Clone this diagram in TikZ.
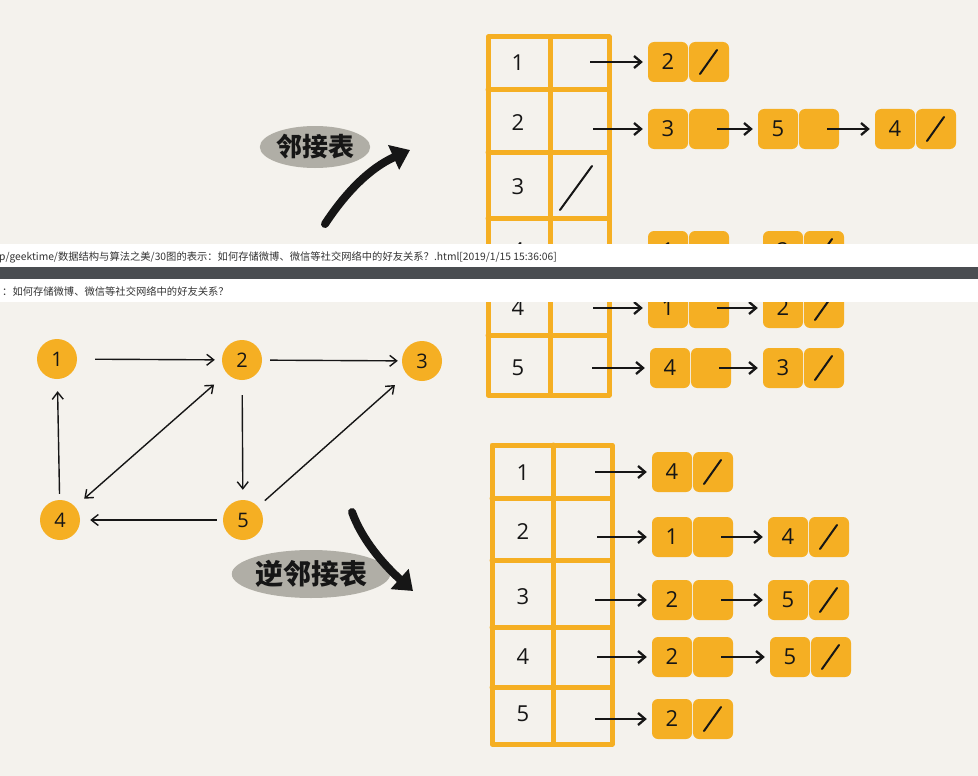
\documentclass[tikz,border=0pt]{standalone}
\usepackage{fontspec}
\usetikzlibrary{arrows.meta,shapes.geometric}
\newfontfamily\cjk{Noto Sans CJK SC}
\newfontfamily\hand{Open Sans}
\definecolor{paper}{HTML}{F4F2ED}
\definecolor{amber}{HTML}{F5AF23}
\definecolor{tagfill}{HTML}{B0AEA6}
\definecolor{barc}{HTML}{4A4D51}
\definecolor{ink}{HTML}{161616}
\definecolor{bartext}{HTML}{333333}

\tikzset{
  blk/.style={rectangle, rounded corners=6pt, fill=amber, minimum width=40pt,
    minimum height=40pt, inner sep=0pt, text=ink, font=\hand\fontsize{22}{22}\selectfont},
  vtx/.style={circle, fill=amber, minimum size=40pt, inner sep=0pt, text=ink,
    font=\hand\fontsize{20}{20}\selectfont},
  key/.style={inner sep=0pt, text=ink, font=\hand\fontsize{22}{22}\selectfont},
  grid/.style={draw=amber, line width=5pt, line join=round, line cap=round},
  ptr/.style={-{Straight Barb[length=7pt,width=12pt]}, line width=2.3pt, draw=ink, shorten >=5pt},
  edge/.style={line width=1.4pt, draw=ink},
  tip/.style={-{Straight Barb[length=7pt,width=11pt]}},
  nil/.style={line width=2pt, draw=ink, line cap=round},
  bigarrow/.style={line width=8pt, draw=ink, line cap=round,
    -{Triangle[length=18pt,width=26pt]}},
  tag/.style={ellipse, fill=tagfill, inner sep=0pt, text=ink},
  bartxt/.style={anchor=west, inner sep=0pt, text=bartext, font=\cjk\fontsize{10.3}{10.3}\selectfont}
}

% a list cell: value half and pointer half
\newcommand\cellpair[4]{%
  \node[blk] (#1a) at (#2,#3) {#4};
  \node[blk] (#1b) at ({#2+41},#3) {};}
% null pointer mark in the pointer half
\newcommand\cellend[1]{%
  \draw[nil] ([xshift=-9pt,yshift=-12pt]#1b.center) -- ([xshift=8pt,yshift=12pt]#1b.center);}
% pointer from one cell to the next
\newcommand\cellnext[2]{%
  \draw[ptr, shorten <=8pt] (#1b.center) -- (#2a.west);}

% adjacency list: frame
\newcommand\adjgrid{%
  \draw[grid] (488,37) rectangle (609,338);
  \draw[grid] (550,37) -- (550,338);
  \foreach \yy in {90,152,218,278} {\draw[grid] (488,\yy) -- (609,\yy);}}
% adjacency list: rows 1 to 3
\newcommand\adjupper{%
  \node[key] (ak1) at (518,63) {1};
  \node[key] (ak2) at (518,123) {2};
  \node[key] (ak3) at (518,187) {3};
  \cellpair{aa}{668}{62}{2}\cellend{aa}
  \coordinate (ap1) at (590,62);
  \draw[ptr] (ap1) -- (aaa.west);
  \cellpair{ab}{668}{129}{3}
  \cellpair{ac}{778}{129}{5}
  \cellpair{ad}{895}{129}{4}\cellend{ad}
  \coordinate (ap2) at (593,129);
  \draw[ptr] (ap2) -- (aba.west);
  \cellnext{ab}{ac}\cellnext{ac}{ad}
  \coordinate (an3s) at (560,210);
  \coordinate (an3e) at (592,166);
  \draw[nil] (an3s) -- (an3e);}
% adjacency list: row 4
\newcommand\adjfour{%
  \node[key] (ak4) at (518,251) {4};
  \cellpair{ae}{668}{251}{1}
  \cellpair{af}{783}{251}{2}\cellend{af}
  \coordinate (ap4) at (593,251);
  \draw[ptr] (ap4) -- (aea.west);
  \cellnext{ae}{af}}
% adjacency list: row 5
\newcommand\adjfive{%
  \node[key] (ak5) at (518,311) {5};
  \cellpair{ag}{670}{311}{4}
  \cellpair{ah}{783}{311}{3}\cellend{ah}
  \coordinate (ap5) at (592,311);
  \draw[ptr] (ap5) -- (aga.west);
  \cellnext{ag}{ah}}

\begin{document}
\begin{tikzpicture}[x=1pt,y=-1pt]
\useasboundingbox (0,0) rectangle (978,776);
\fill[paper] (0,0) rectangle (978,776);

% adjacency list, upper capture
\begin{scope}
  \clip (0,0) rectangle (978,244);
  \adjgrid\adjupper\adjfour
\end{scope}
% adjacency list, lower capture
\begin{scope}
  \clip (0,302) rectangle (978,776);
  \begin{scope}[shift={(0,57)}]
    \adjgrid\adjfour\adjfive
  \end{scope}
\end{scope}

% browser strip between captures
\fill[white] (0,244) rectangle (978,267);
\fill[barc] (0,267) rectangle (978,279);
\fill[white] (0,279) rectangle (978,302);
\node[bartxt] (url) at (-1,257) {p/geektime/数据结构与算法之美/30图的表示：如何存储微博、微信等社交网络中的好友关系？.html[2019/1/15 15:36:06]};
\node[bartxt] (ttl) at (2,292) {：如何存储微博、微信等社交网络中的好友关系？};

% labels with thick arrows
\node[tag, minimum width=96pt, minimum height=42pt, font=\cjk\bfseries\fontsize{26}{26}\selectfont] (adjtag) at (315,147) {邻接表};
\coordinate (adjtail) at (325,224);
\coordinate (adjhead) at (410,150);
\draw[bigarrow] (adjtail) .. controls (346,192) and (370,168) .. (adjhead);

\node[tag, minimum width=127pt, minimum height=48pt, font=\cjk\bfseries\fontsize{28}{28}\selectfont] (invtag) at (311,574) {逆邻接表};
\coordinate (invtail) at (352,512);
\coordinate (invhead) at (413,591);
\draw[bigarrow] (invtail) .. controls (362,540) and (384,565) .. (invhead);

% directed graph
\node[vtx] (v1) at (57,359) {1};
\node[vtx] (v2) at (242,360) {2};
\node[vtx] (v3) at (422,361) {3};
\node[vtx] (v4) at (60,520) {4};
\node[vtx] (v5) at (243,520) {5};
\draw[edge, tip, shorten <=18pt, shorten >=7pt] (v1) -- (v2);
\draw[edge, tip, shorten <=8pt, shorten >=4pt] (v2) -- (v3);
\draw[edge, tip, shorten <=6pt, shorten >=12pt] (v4) -- (v1);
\draw[edge, {Straight Barb[length=7pt,width=11pt]}-{Straight Barb[length=7pt,width=11pt]}, shorten <=17pt, shorten >=12pt] (v2) -- (v4);
\draw[edge, tip, shorten <=15pt, shorten >=10pt] (v2) -- (v5);
\draw[edge, tip, shorten <=6pt, shorten >=10pt] (v5) -- (v4);
\draw[edge, tip, shorten <=9pt, shorten >=16pt] (v5) -- (v3);

% inverse adjacency list
\draw[grid] (492,445) rectangle (612,744);
\draw[grid] (553,445) -- (553,744);
\foreach \yy in {498,560,627,687} {\draw[grid] (492,\yy) -- (612,\yy);}
\node[key] (ik1) at (523,473) {1};
\node[key] (ik2) at (523,532) {2};
\node[key] (ik3) at (523,597) {3};
\node[key] (ik4) at (523,657) {4};
\node[key] (ik5) at (523,714) {5};
% row 1
\cellpair{ia}{672}{472}{4}\cellend{ia}
\coordinate (ip1) at (595,472);
\draw[ptr] (ip1) -- (iaa.west);
% row 2
\cellpair{ib}{672}{537}{1}
\cellpair{ic}{788}{537}{4}\cellend{ic}
\coordinate (ip2) at (597,537);
\draw[ptr] (ip2) -- (iba.west);
\cellnext{ib}{ic}
% row 3
\cellpair{id}{672}{600}{2}
\cellpair{ie}{788}{600}{5}\cellend{ie}
\coordinate (ip3) at (595,600);
\draw[ptr] (ip3) -- (ida.west);
\cellnext{id}{ie}
% row 4
\cellpair{if}{672}{657}{2}
\cellpair{ig}{790}{657}{5}\cellend{ig}
\coordinate (ip4) at (597,657);
\draw[ptr] (ip4) -- (ifa.west);
\cellnext{if}{ig}
% row 5
\cellpair{ih}{672}{719}{2}\cellend{ih}
\coordinate (ip5) at (595,719);
\draw[ptr] (ip5) -- (iha.west);
\end{tikzpicture}
\end{document}
